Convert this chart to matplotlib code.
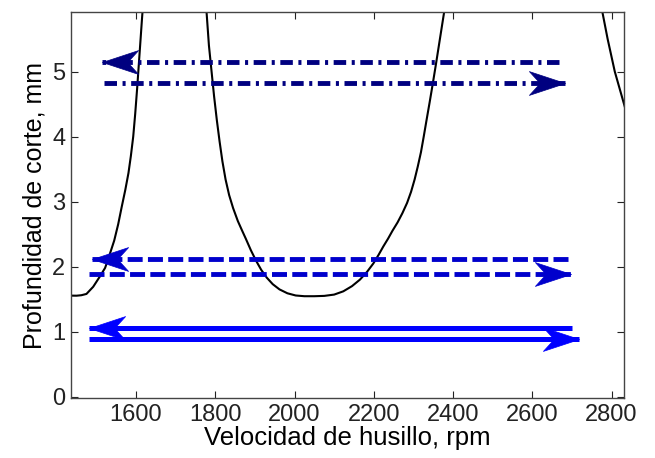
import numpy as np
import matplotlib
matplotlib.use("Agg")
import matplotlib.pyplot as plt
from matplotlib.path import Path

plt.rcParams['font.family'] = ['Liberation Sans', 'DejaVu Sans']
plt.rcParams['lines.scale_dashes'] = False

# Stability lobes (spindle speed rpm, depth of cut mm)
lobe1_rpm = [1436, 1450, 1462, 1475, 1492, 1509, 1522, 1530, 1545, 1555, 1564, 1573, 1581,
             1587, 1593, 1598, 1603, 1607, 1611, 1615, 1618]
lobe1_depth = [1.554, 1.553, 1.56, 1.58, 1.69, 1.85, 1.98, 2.12, 2.40, 2.65, 2.92, 3.18, 3.44,
               3.70, 4.00, 4.35, 4.75, 5.10, 5.45, 5.80, 6.05]
lobe2_rpm = [1777, 1784, 1791, 1797, 1804, 1811, 1818, 1826, 1835, 1845, 1857, 1868, 1877,
             1890, 1903, 1916, 1930, 1945, 1962, 1982, 2003, 2025, 2050, 2075, 2100, 2123,
             2145, 2165, 2183, 2199, 2212, 2224, 2236, 2247, 2260, 2272, 2284, 2294, 2303,
             2311, 2319, 2326, 2333, 2341, 2349, 2357, 2365, 2373, 2381]
lobe2_depth = [6.0, 5.4, 4.98, 4.62, 4.25, 3.92, 3.62, 3.34, 3.10, 2.90, 2.70, 2.55, 2.43,
               2.25, 2.09, 1.95, 1.83, 1.73, 1.65, 1.59, 1.556, 1.545, 1.545, 1.55, 1.57, 1.62,
               1.70, 1.80, 1.92, 2.05, 2.18, 2.31, 2.43, 2.55, 2.68, 2.82, 2.98, 3.15, 3.34,
               3.54, 3.76, 4.0, 4.25, 4.53, 4.82, 5.12, 5.43, 5.74, 6.05]
lobe3_rpm = [2774, 2790, 2808, 2822, 2836]
lobe3_depth = [6.0, 5.5, 5.0, 4.7, 4.4]

# Test paths (start rpm, end rpm, depth) - arrow points toward end
solid_paths = [(2699, 1482, 1.05), (1482, 2718, 0.88)]
dashed_paths = [(2690, 1488, 2.11), (1482, 2697, 1.88)]
dashdot_paths = [(2668, 1513, 5.14), (1520, 2682, 4.82)]

xticks = [1600, 1800, 2000, 2200, 2400, 2600, 2800]
yticks = [0, 1, 2, 3, 4, 5]

fig = plt.figure(figsize=(6.55, 4.58), dpi=100)
ax = fig.add_axes([0.1084, 0.1303, 0.9531 - 0.1084, 0.9731 - 0.1303])

ax.plot(lobe1_rpm, lobe1_depth, color='black', lw=1.5, zorder=2)
ax.plot(lobe2_rpm, lobe2_depth, color='black', lw=1.5, zorder=2)
ax.plot(lobe3_rpm, lobe3_depth, color='black', lw=1.5, zorder=2)

head_r = Path([(0, 0), (-1, 0.33), (-0.7, 0), (-1, -0.33), (0, 0)],
              [Path.MOVETO, Path.LINETO, Path.LINETO, Path.LINETO, Path.CLOSEPOLY])
head_l = Path([(0, 0), (1, 0.33), (0.7, 0), (1, -0.33), (0, 0)],
              [Path.MOVETO, Path.LINETO, Path.LINETO, Path.LINETO, Path.CLOSEPOLY])

def draw(paths, color, dashes, lw):
    for x0, x1, y in paths:
        line, = ax.plot([x0, x1], [y, y], color=color, lw=lw, solid_capstyle='butt',
                        dash_capstyle='butt', zorder=3)
        if dashes is not None:
            line.set_dashes(dashes)
        m = head_r if x1 > x0 else head_l
        ax.plot([x1], [y], marker=m, markersize=52, color=color,
                markeredgecolor=color, markeredgewidth=0.5, linestyle='none', zorder=4)

draw(solid_paths, '#0000FF', None, 3.6)
draw(dashed_paths, '#0000CC', (10.8, 3.8), 3.5)
draw(dashdot_paths, '#000080', (9.0, 4.0, 2.2, 4.0), 3.5)

ax.set_xlim(1436, 2832)
ax.set_ylim(-0.025, 5.91)
ax.set_xticks(xticks)
ax.set_yticks(yticks)
ax.tick_params(direction='in', length=5, width=0.8, top=True, right=True,
               labelsize=17, colors='#222222', pad=4)
for s in ax.spines.values():
    s.set_color('#444444')
    s.set_linewidth(1.0)

ax.set_xlabel('Velocidad de husillo, rpm', fontsize=18.5, labelpad=0)
ax.set_ylabel('Profundidad de corte, mm', fontsize=18, labelpad=4)

fig.savefig('out.png', dpi=100)
